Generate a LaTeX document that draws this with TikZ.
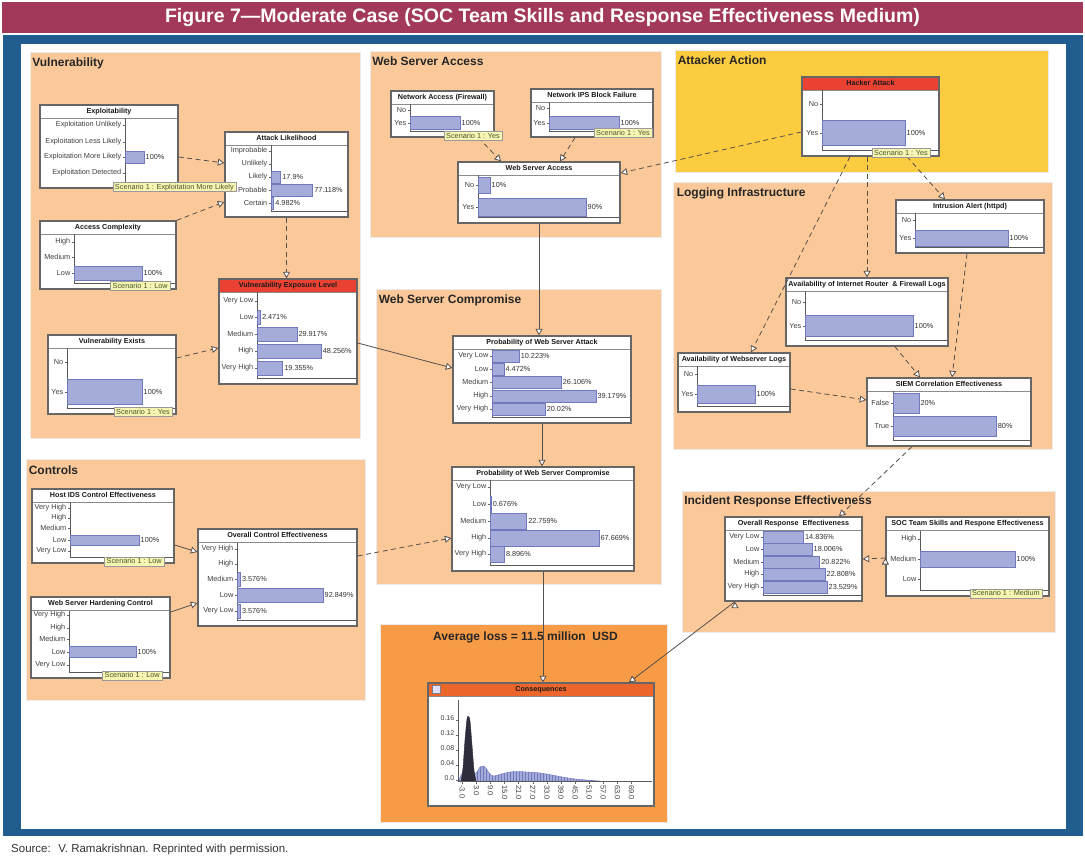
\documentclass[tikz,border=0pt]{standalone}
\usepackage{fontspec}
\setmainfont{Liberation Sans}
\usetikzlibrary{arrows.meta,positioning,fit,patterns}
\definecolor{figtitle}{RGB}{163,57,89}
\definecolor{frameblue}{RGB}{33,93,143}
\definecolor{peach}{RGB}{251,201,153}
\definecolor{gold}{RGB}{252,204,64}
\definecolor{lossorange}{RGB}{247,155,70}
\definecolor{barfill}{RGB}{166,172,218}
\definecolor{bardraw}{RGB}{112,120,190}
\definecolor{alertred}{RGB}{234,66,50}
\definecolor{consred}{RGB}{236,102,44}
\definecolor{scenfill}{RGB}{246,246,178}
\definecolor{scentext}{RGB}{75,85,45}
\definecolor{linkgray}{RGB}{85,80,75}
\definecolor{spike}{RGB}{45,45,60}
\tikzset{
  panel/.style={inner sep=0pt,draw=black!8,line width=0.8pt},
  paneltitle/.style={anchor=north west,inner sep=0pt,text=black!85,font=\fontsize{12}{14}\selectfont\bfseries},
  bnframe/.style={draw=black!60,line width=1.3pt,fill=white,inner sep=0pt},
  bnhead/.style={path picture={
    \fill[#1] (path picture bounding box.north west) rectangle ([yshift=-13pt]path picture bounding box.north east);
    \draw[black!45,line width=0.6pt] ([yshift=-13pt]path picture bounding box.north west) -- ([yshift=-13pt]path picture bounding box.north east);}},
  bntitle/.style={inner sep=0pt,text=black!90,font=\fontsize{7.2}{8}\selectfont\bfseries},
  bnlabel/.style={anchor=east,inner sep=0.5pt,text=black!75,font=\fontsize{7.3}{8}\selectfont},
  bnvalue/.style={anchor=west,inner sep=1.5pt,text=black!80,font=\fontsize{7.3}{8}\selectfont},
  bntick/.style={draw=black!60,line width=0.5pt},
  bnaxis/.style={draw=black!65,line width=0.6pt},
  bnbar/.style={fill=barfill,draw=bardraw,line width=0.5pt},
  bnscen/.style={anchor=south east,fill=scenfill,draw=black!40,line width=0.5pt,text=scentext,inner xsep=2pt,inner ysep=1pt,text height=5.5pt,text depth=1.5pt,font=\fontsize{7.3}{8}\selectfont},
  link/.style={draw=linkgray,line width=0.8pt,-{Triangle[length=6.5pt,width=7pt,fill=white]}},
  dashlink/.style={link,dash pattern=on 5pt off 3.5pt},
}
% box: name, x1, y1, x2, y2, title, title colour
\newcommand{\bnhd}[7]{%
  \node[bnframe,bnhead=#7,fit={(#2,#3) (#4,#5)}] (#1) {};
  \node[bntitle] (#1-t) at ([yshift=-7pt]#1.north) {#6};}
% same, with the chart axis at x = #8
\newcommand{\bnbox}[8]{%
  \bnhd{#1}{#2}{#3}{#4}{#5}{#6}{#7}
  \draw[bnaxis] (#8,#3+13.5) -- (#8,#5-6) -- (#4-1.5,#5-6);
  \def\bnax{#8}}
% row: box, key, y, label
\newcommand{\bnlab}[4]{%
  \draw[bntick] (\bnax-2.5,#3) -- (\bnax,#3);
  \node[bnlabel] (#1-#2) at (\bnax-3,#3) {#4};}
% bar: box, key, y, length, half height, value
\newcommand{\bnbar}[6]{%
  \draw[bnbar] (\bnax,#3-#5) rectangle (\bnax+#4,#3+#5);
  \node[bnvalue] (#1-#2-v) at (\bnax+#4,#3) {#6};}

\begin{document}
\begin{tikzpicture}[x=1pt,y=-1pt]
\useasboundingbox (0,0) rectangle (1085,858);
\fill[figtitle] (2,2) rectangle (1083,33);
\node[text=white,inner sep=0pt,font=\fontsize{19.5}{22}\selectfont\bfseries] (fig) at (542.5,18) {Figure 7—Moderate Case (SOC Team Skills and Response Effectiveness Medium)};
\fill[frameblue] (3,35) rectangle (1083,836);
\fill[white] (21,44) rectangle (1066,829);
\node[anchor=west,inner sep=0pt,text=black!80,font=\fontsize{11.5}{13}\selectfont] (src) at (11,850) {Source:~ V. Ramakrishnan. Reprinted with permission.};
%
\node[panel,fill=peach,fit={(30,52) (360,438)}] (pvul) {};
\node[paneltitle] (pvul-t) at ([shift={(2.5pt,-6pt)}]pvul.north west) {Vulnerability};
\node[panel,fill=peach,fit={(370,51) (661,237)}] (pwsa) {};
\node[paneltitle] (pwsa-t) at ([shift={(2.5pt,-6pt)}]pwsa.north west) {Web Server Access};
\node[panel,fill=gold,fit={(675,50) (1048,172)}] (patt) {};
\node[paneltitle] (patt-t) at ([shift={(3pt,-6pt)}]patt.north west) {Attacker Action};
\node[panel,fill=peach,fit={(673,182) (1052,449)}] (plog) {};
\node[paneltitle] (plog-t) at ([shift={(4pt,-6pt)}]plog.north west) {Logging Infrastructure};
\node[panel,fill=peach,fit={(376,289) (661,584)}] (pwsc) {};
\node[paneltitle] (pwsc-t) at ([shift={(3pt,-6pt)}]pwsc.north west) {Web Server Compromise};
\node[panel,fill=peach,fit={(26,459) (365,700)}] (pctl) {};
\node[paneltitle] (pctl-t) at ([shift={(3pt,-7pt)}]pctl.north west) {Controls};
\node[panel,fill=peach,fit={(682,491) (1055,632)}] (pire) {};
\node[paneltitle] (pire-t) at ([shift={(2.5pt,-5.5pt)}]pire.north west) {Incident Response Effectiveness};
\node[panel,fill=lossorange,fit={(380,624) (667,822)}] (ploss) {};
\node[paneltitle,anchor=north] (ploss-t) at ([shift={(2pt,-8pt)}]ploss.north) {Average loss = 11.5 million~ USD};
%
% Vulnerability
\bnbox{expl}{40}{105}{178}{188}{Exploitability}{white}{125}
\bnlab{expl}{u}{125}{Exploitation Unlikely}
\bnlab{expl}{l}{142}{Exploitation Less Likely}
\bnlab{expl}{m}{157}{Exploitation More Likely}
\bnlab{expl}{d}{173}{Exploitation Detected}
\bnbar{expl}{m}{157}{19}{6}{100\%}
\bnbox{al}{225}{132}{348}{217}{Attack Likelihood}{white}{271}
\bnlab{al}{i}{151}{Improbable}
\bnlab{al}{u}{164}{Unlikely}
\bnlab{al}{l}{177}{Likely}
\bnlab{al}{p}{190}{Probable}
\bnlab{al}{c}{203}{Certain}
\bnbar{al}{l}{177}{9.7}{6}{17.9\%}
\bnbar{al}{p}{190}{41.6}{6}{77.118\%}
\bnbar{al}{c}{203}{2.7}{6}{4.982\%}
\bnbox{acc}{40}{221}{176}{289}{Access Complexity}{white}{74}
\bnlab{acc}{h}{242}{High}
\bnlab{acc}{m}{257}{Medium}
\bnlab{acc}{l}{273}{Low}
\bnbar{acc}{l}{273}{68}{7}{100\%}
\bnbox{vel}{219}{279}{357}{384}{Vulnerability Exposure Level}{alertred}{257}
\bnlab{vel}{vl}{301}{Very Low}
\bnlab{vel}{l}{317}{Low}
\bnlab{vel}{m}{334}{Medium}
\bnlab{vel}{h}{351}{High}
\bnlab{vel}{vh}{368}{Very High}
\bnbar{vel}{l}{317}{3.3}{7}{2.471\%}
\bnbar{vel}{m}{334}{39.8}{7}{29.917\%}
\bnbar{vel}{h}{351}{64.2}{7}{48.256\%}
\bnbar{vel}{vh}{368}{25.7}{7}{19.355\%}
\bnbox{vex}{48}{335}{176}{414}{Vulnerability Exists}{white}{67}
\bnlab{vex}{n}{362}{No}
\bnlab{vex}{y}{392}{Yes}
\bnbar{vex}{y}{392}{75}{12.5}{100\%}
% Web Server Access
\bnbox{nafw}{391}{91}{494}{137}{Network Access (Firewall)}{white}{410}
\bnlab{nafw}{n}{110}{No}
\bnlab{nafw}{y}{123}{Yes}
\bnbar{nafw}{y}{123}{50}{6.5}{100\%}
\bnbox{ips}{531}{89}{653}{137}{Network IPS Block Failure}{white}{549}
\bnlab{ips}{n}{108}{No}
\bnlab{ips}{y}{123}{Yes}
\bnbar{ips}{y}{123}{70}{6.5}{100\%}
\bnbox{wsa}{458}{162}{620}{223}{Web Server Access}{white}{478}
\bnlab{wsa}{n}{185}{No}
\bnlab{wsa}{y}{207}{Yes}
\bnbar{wsa}{n}{185}{12}{8}{10\%}
\bnbar{wsa}{y}{207}{108}{9}{90\%}
% Attacker Action
\bnbox{hack}{802}{77}{939}{156}{Hacker Attack}{alertred}{822}
\bnlab{hack}{n}{104}{No}
\bnlab{hack}{y}{133}{Yes}
\bnbar{hack}{y}{133}{83}{12.5}{100\%}
% Logging Infrastructure
\bnbox{ida}{896}{200}{1044}{253}{Intrusion Alert (httpd)}{white}{915}
\bnlab{ida}{n}{220}{No}
\bnlab{ida}{y}{238}{Yes}
\bnbar{ida}{y}{238}{93}{8}{100\%}
\bnbox{rfl}{786}{278}{948}{346}{Availability of Internet Router~ \& Firewall Logs}{white}{805}
\bnlab{rfl}{n}{302}{No}
\bnlab{rfl}{y}{326}{Yes}
\bnbar{rfl}{y}{326}{108}{10.5}{100\%}
\bnbox{wsl}{678}{353}{790}{412}{Availability of Webserver Logs}{white}{697}
\bnlab{wsl}{n}{374}{No}
\bnlab{wsl}{y}{394}{Yes}
\bnbar{wsl}{y}{394}{58}{9}{100\%}
\bnbox{siem}{867}{378}{1031}{446}{SIEM Correlation Effectiveness}{white}{893}
\bnlab{siem}{f}{403}{False}
\bnlab{siem}{t}{426}{True}
\bnbar{siem}{f}{403}{25.8}{10}{20\%}
\bnbar{siem}{t}{426}{103.2}{10}{80\%}
% Web Server Compromise
\bnbox{pwsa}{453}{336}{631}{423}{Probability of Web Server Attack}{white}{492}
\bnlab{pwsa}{vl}{356}{Very Low}
\bnlab{pwsa}{l}{369}{Low}
\bnlab{pwsa}{m}{382}{Medium}
\bnlab{pwsa}{h}{396}{High}
\bnlab{pwsa}{vh}{409}{Very High}
\bnbar{pwsa}{vl}{356}{27.1}{6}{10.223\%}
\bnbar{pwsa}{l}{369}{11.9}{6}{4.472\%}
\bnbar{pwsa}{m}{382}{69.2}{6}{26.106\%}
\bnbar{pwsa}{h}{396}{103.8}{6}{39.179\%}
\bnbar{pwsa}{vh}{409}{53.1}{6}{20.02\%}
\bnbox{pwsc}{452}{467}{634}{571}{Probability of Web Server Compromise}{white}{490}
\bnlab{pwsc}{vl}{487}{Very Low}
\bnlab{pwsc}{l}{504}{Low}
\bnlab{pwsc}{m}{521}{Medium}
\bnlab{pwsc}{h}{538}{High}
\bnlab{pwsc}{vh}{554}{Very High}
\bnbar{pwsc}{l}{504}{1.1}{8}{0.676\%}
\bnbar{pwsc}{m}{521}{36.6}{8}{22.759\%}
\bnbar{pwsc}{h}{538}{108.9}{8}{67.669\%}
\bnbar{pwsc}{vh}{554}{14.3}{8}{8.896\%}
% Controls
\bnbox{hids}{32}{489}{174}{563}{Host IDS Control Effectiveness}{white}{70}
\bnlab{hids}{vh}{508}{Very High}
\bnlab{hids}{h}{518}{High}
\bnlab{hids}{m}{528}{Medium}
\bnlab{hids}{l}{540}{Low}
\bnlab{hids}{vl}{551}{Very Low}
\bnbar{hids}{l}{540}{69}{5}{100\%}
\bnbox{wshc}{31}{597}{170}{678}{Web Server Hardening Control}{white}{69}
\bnlab{wshc}{vh}{615}{Very High}
\bnlab{wshc}{h}{628}{High}
\bnlab{wshc}{m}{639}{Medium}
\bnlab{wshc}{l}{652}{Low}
\bnlab{wshc}{vl}{665}{Very Low}
\bnbar{wshc}{l}{652}{67}{5.5}{100\%}
\bnbox{oce}{198}{529}{357}{626}{Overall Control Effectiveness}{white}{237}
\bnlab{oce}{vh}{549}{Very High}
\bnlab{oce}{h}{564}{High}
\bnlab{oce}{m}{579}{Medium}
\bnlab{oce}{l}{595}{Low}
\bnlab{oce}{vl}{611}{Very Low}
\bnbar{oce}{m}{579}{3.3}{7}{3.576\%}
\bnbar{oce}{l}{595}{86}{7}{92.849\%}
\bnbar{oce}{vl}{611}{3.3}{7}{3.576\%}
% Incident Response Effectiveness
\bnbox{ore}{725}{517}{862}{601}{Overall Response~ Effectiveness}{white}{763}
\bnlab{ore}{vl}{537}{Very Low}
\bnlab{ore}{l}{549}{Low}
\bnlab{ore}{m}{562}{Medium}
\bnlab{ore}{h}{574}{High}
\bnlab{ore}{vh}{587}{Very High}
\bnbar{ore}{vl}{537}{40.4}{6}{14.836\%}
\bnbar{ore}{l}{549}{49}{6}{18.006\%}
\bnbar{ore}{m}{562}{56.6}{6}{20.822\%}
\bnbar{ore}{h}{574}{62}{6}{22.808\%}
\bnbar{ore}{vh}{587}{64}{6}{23.529\%}
\bnbox{soc}{886}{517}{1049}{596}{SOC Team Skills and Respone Effectiveness}{white}{920}
\bnlab{soc}{h}{539}{High}
\bnlab{soc}{m}{559}{Medium}
\bnlab{soc}{l}{579}{Low}
\bnbar{soc}{m}{559}{95}{8}{100\%}
% Consequences
\bnhd{cons}{428}{683}{654}{806}{Consequences}{consred}
\node[draw=black!50,fill=blue!12,minimum size=8pt,inner sep=0pt] (cons-i) at (436,689.5) {};
\path[fill=barfill,draw=bardraw,line width=0.4pt,postaction={pattern=vertical lines,pattern color=bardraw}]
  plot[smooth] coordinates {(459,781) (461,775) (464,772) (470,772) (474,774) (477,772) (480,767) (483,766) (486,768) (489,773) (493,776) (498,775) (505,773) (515,771.5) (527,772) (540,773) (552,775) (565,777.5) (580,779.5) (600,781)} -- cycle;
\fill[spike,draw=spike] plot[smooth] coordinates {(461,781) (463,768) (465,740) (467,719) (468.5,716.5) (470,721) (472,745) (474,770) (476,781)} -- cycle;
\draw[bnaxis] (458,700) -- (458,781) -- (652,781);
\foreach \v [count=\i] in {0.16,0.12,0.08,0.04,0.0}
  \draw[bntick] (455.5,705+15*\i) -- (458,705+15*\i)
    node[bnlabel,font=\fontsize{7}{8}\selectfont] (cons-y\i) at (455,703+15*\i) {\v};
\foreach \lab [count=\i from 0] in {-3.0,3.0,9.0,15.0,21.0,27.0,33.0,39.0,45.0,51.0,57.0,63.0,69.0}
  \draw[bntick] (462.3+14.1*\i,781) -- (462.3+14.1*\i,784)
    node[rotate=-90,anchor=west,inner sep=1pt,text=black!75,font=\fontsize{7.5}{8}\selectfont] (cons-x\i) {\lab};
%
\path[dashlink]
  ([yshift=-10.5pt]expl.east) edge ([yshift=11.5pt]al.west)
  (acc.north east) edge ([yshift=-27.5pt]al.west)
  (al.south) edge (al.south |- vel.north)
  ([yshift=16.5pt]vex.east) edge ([yshift=-16.5pt]vel.west)
  ([xshift=36pt]nafw.south) edge ([xshift=-38pt]wsa.north)
  ([xshift=-17pt]ips.south) edge ([xshift=21pt]wsa.north)
  ([yshift=-15.5pt]hack.west) edge ([yshift=19.5pt]wsa.east)
  ([xshift=36.5pt]hack.south) edge ([xshift=-25pt]ida.north)
  (hack.south -| rfl.north) edge (rfl.north)
  ([xshift=-20.5pt]hack.south) edge ([xshift=17pt]wsl.north)
  ([xshift=28pt]rfl.south) edge ([xshift=-29pt]siem.north)
  ([xshift=-3pt]ida.south) edge ([xshift=3pt]siem.north)
  ([yshift=-6.5pt]wsl.east) edge ([yshift=12pt]siem.west)
  ([xshift=-37pt]siem.south) edge ([xshift=45.5pt]ore.north)
  ([yshift=21.5pt]oce.east) edge ([yshift=-19pt]pwsc.west)
  ([yshift=-1.5pt]soc.west) edge (ore.east)
;
\path[link]
  ([yshift=-11.5pt]vel.east) edge ([yshift=11.5pt]pwsa.west)
  (wsa.south) edge (wsa.south |- pwsa.north)
  (pwsa.south) edge (pwsa.south |- pwsc.north)
  (pwsc.south) edge (pwsc.south |- cons.north)
  ([yshift=-19pt]hids.east) edge ([yshift=25.5pt]oce.west)
  ([yshift=25.5pt]wshc.east) edge ([yshift=-25.5pt]oce.west)
  ([xshift=-58.5pt]ore.south) edge ([xshift=88pt]cons.north)
;
% scenario tags
\node[bnscen] (expl-s) at (236,192) {Scenario 1 : Exploitation More Likely};
\node[bnscen] (acc-s) at (170,291) {Scenario 1 : Low};
\node[bnscen] (vex-s) at (172,417) {Scenario 1 : Yes};
\node[bnscen] (nafw-s) at (502,141) {Scenario 1 : Yes};
\node[bnscen] (ips-s) at (652,138) {Scenario 1 : Yes};
\node[bnscen] (hack-s) at (930,158) {Scenario 1 : Yes};
\node[bnscen] (hids-s) at (164,566) {Scenario 1 : Low};
\node[bnscen] (wshc-s) at (162,680) {Scenario 1 : Low};
\node[bnscen] (soc-s) at (1042,598) {Scenario 1 : Medium};
\end{tikzpicture}
\end{document}
